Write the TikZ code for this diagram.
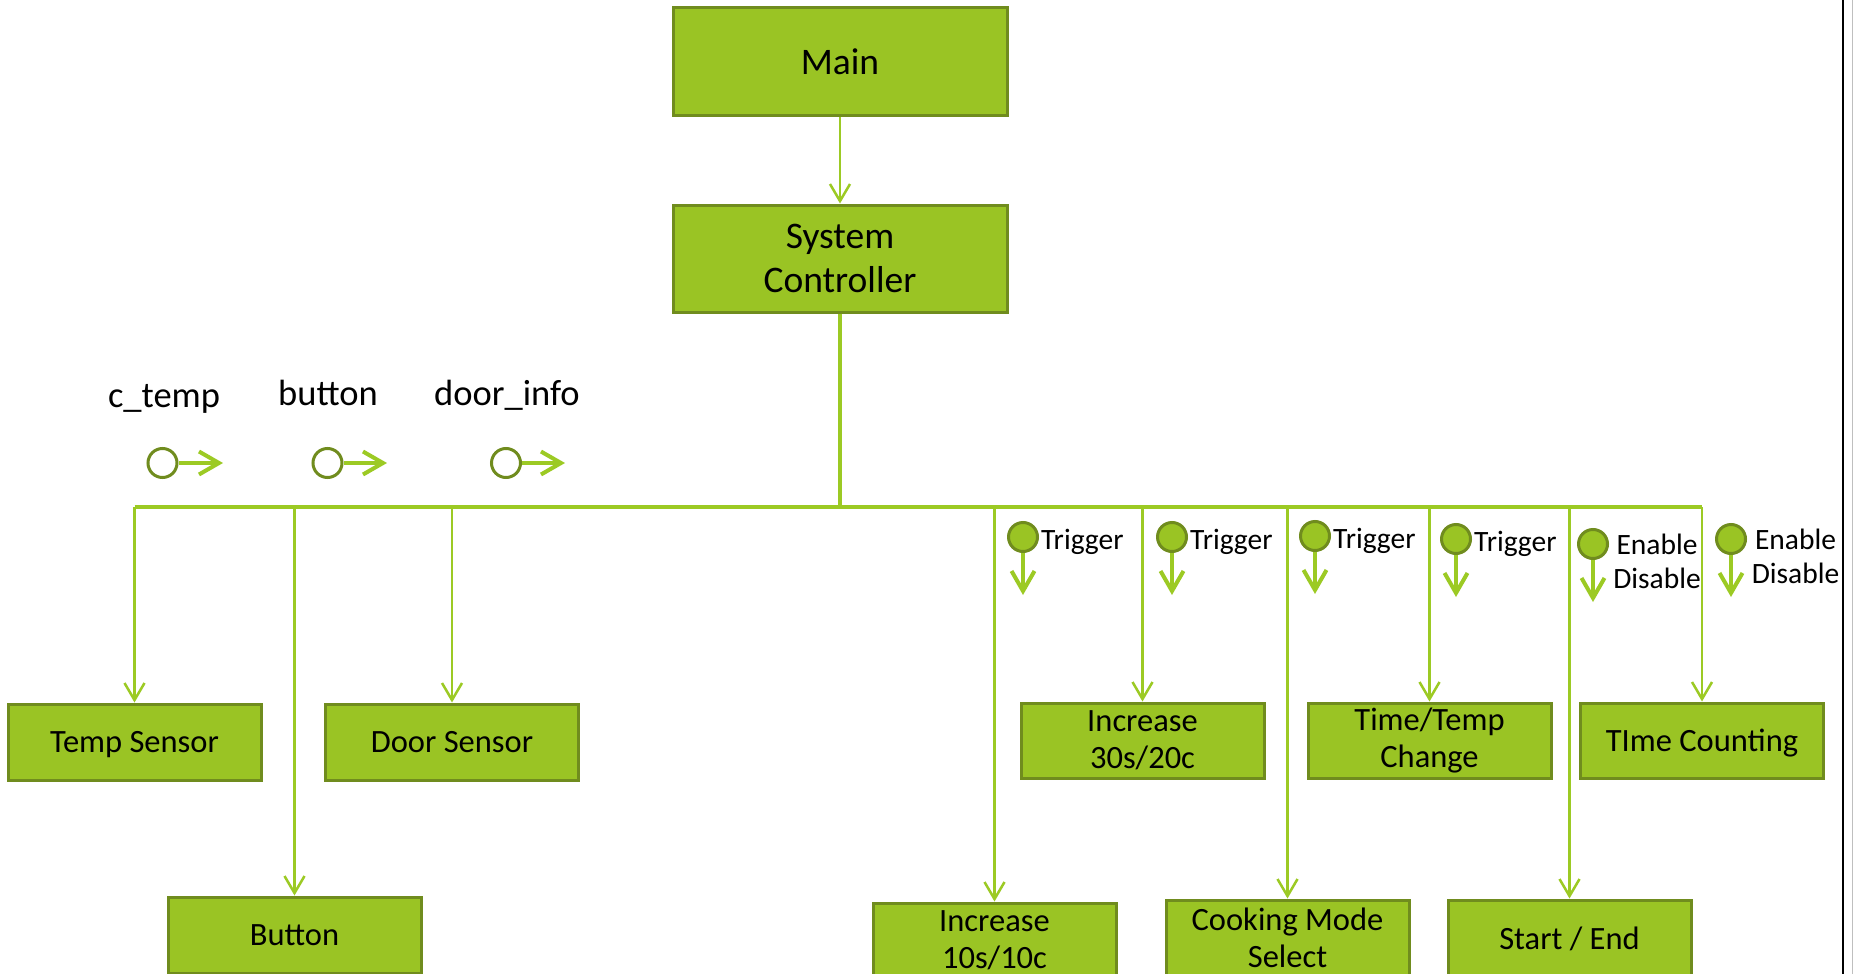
\documentclass[tikz,border=0pt]{standalone}
\usepackage{fontspec}
\setmainfont{Carlito}
\usetikzlibrary{arrows.meta}
\definecolor{boxfill}{RGB}{154,196,36}
\definecolor{boxedge}{RGB}{112,140,30}
\definecolor{wire}{RGB}{156,202,36}

\tikzset{
  topbox/.style={draw=boxedge, fill=boxfill, line width=3pt, minimum width=334pt,
    minimum height=107pt, inner sep=0pt, align=center, font=\fontsize{37.5}{44}\selectfont},
  lowbox/.style={draw=boxedge, fill=boxfill, line width=3pt, minimum width=243pt,
    minimum height=75pt, inner sep=0pt, align=center, font=\fontsize{32.5}{37}\selectfont},
  widebox/.style={lowbox, minimum width=253pt, minimum height=76pt},
  feed/.style={draw=wire, line width=2.5pt, -{Straight Barb[length=17pt,width=20pt]}},
  bus/.style={draw=wire, line width=3.5pt},
  port/.style={circle, draw=boxedge, line width=3pt, fill=white, minimum size=29pt, inner sep=0pt},
  event/.style={port, fill=boxfill},
  flow/.style={draw=wire, line width=4pt, -{Straight Barb[length=20pt,width=23pt]}},
  signal/.style={font=\fontsize{36.5}{42}\selectfont, inner sep=0pt},
  cue/.style={font=\fontsize{29.5}{34}\selectfont, inner sep=0pt, align=center},
}

\begin{document}
\begin{tikzpicture}[x=1pt,y=-1pt]
\clip (0,0) rectangle (1858,974);
\fill[white] (0,0) rectangle (1858,974);

% top of the hierarchy
\node[topbox] (main) at (840,61.5) {Main};
\node[topbox] (ctrl) at (840,258.5) {System\\Controller};

% sub-modules
\node[widebox, text depth=0pt] (temp) at (134.5,742) {Temp Sensor};
\node[widebox] (door) at (452,742) {Door Sensor};
\node[widebox] (btn) at (294.5,935) {Button};
\node[lowbox] (inc30) at (1142.5,740.5) {Increase\\30s/20c};
\node[lowbox] (tt) at (1429.5,740.5) {Time/Temp\\Change};
\node[lowbox, text depth=0pt] (tcount) at (1702,740.5) {TIme Counting};
\node[lowbox] (inc10) at (994.5,940.5) {Increase\\10s/10c};
\node[lowbox, minimum height=76pt] (cook) at (1287.5,938) {Cooking Mode\\Select};
\node[lowbox, minimum height=77pt] (startend) at (1569.5,938.5) {Start / End};

% connectors
\draw[feed] (main) -- (ctrl);
\coordinate (hub) at (840,507);
\draw[bus] (ctrl.south) -- (hub);
\draw[bus] (temp.north |- hub) -- (tcount.north |- hub);
\foreach \n in {temp,btn,door,inc10,inc30,cook,tt,startend,tcount}
  \draw[feed] (\n.north |- hub) -- (\n.north);

% data couples returned to the controller
\node[signal, anchor=base] (lctemp) at (164,407) {c\_temp};
\node[signal, anchor=base] (lbutton) at (328,405) {button};
\node[signal, anchor=base] (ldoor) at (507,405) {door\_info};
\node[port] (pctemp) at (162.5,463) {};
\node[port] (pbutton) at (327.5,463) {};
\node[port] (pdoor) at (506,463) {};
\coordinate (actemp) at (223,463);
\coordinate (abutton) at (387,463);
\coordinate (adoor) at (565,463);
\draw[flow] (pctemp) -- (actemp);
\draw[flow] (pbutton) -- (abutton);
\draw[flow] (pdoor) -- (adoor);

% control couples sent down
\node[event] (e1) at (1023,537) {};
\node[event] (e2) at (1172,537) {};
\node[event] (e3) at (1315,536) {};
\node[event] (e4) at (1456,539) {};
\node[event] (e5) at (1593,544) {};
\node[event] (e6) at (1731,539) {};
\coordinate (e1a) at (1023,595);
\coordinate (e2a) at (1172,595);
\coordinate (e3a) at (1315,594);
\coordinate (e4a) at (1456,597);
\coordinate (e5a) at (1593,602);
\coordinate (e6a) at (1731,597);
\foreach \k in {1,...,6} \draw[flow] (e\k) -- (e\k a);

\node[cue, anchor=base west] (c1) at (1041,549) {Trigger};
\node[cue, anchor=base west] (c2) at (1190,549) {Trigger};
\node[cue, anchor=base west] (c3) at (1333,548) {Trigger};
\node[cue, anchor=base west] (c4) at (1474,551) {Trigger};
\node[cue] (c5) at (1657,561) {Enable\\Disable};
\node[cue] (c6) at (1795.5,556) {Enable\\Disable};

% page edge
\draw[black, line width=2.5pt] (1843,0) -- (1843,974);
\draw[black!25, line width=1pt] (1852,0) -- (1852,974);
\end{tikzpicture}
\end{document}
